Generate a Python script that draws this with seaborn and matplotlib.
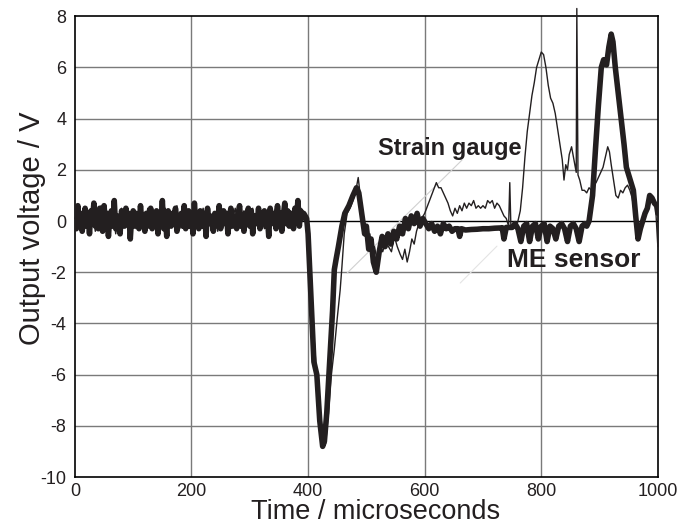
import numpy as np
import pandas as pd
import matplotlib
matplotlib.use("Agg")
import matplotlib.pyplot as plt
import seaborn as sns

# -----------------------------
# Data
# -----------------------------
# ME sensor baseline before the impact, every 2.5 microseconds
me_base_t = list(np.arange(0, 400, 2.5))
me_base = [0.2, -0.3, 0.6, -0.1, 0.3, -0.4, 0.1, 0.5, -0.2, 0.3,
           -0.5, 0.4, 0.0, 0.7, -0.2, 0.3, -0.3, 0.5, 0.1, -0.4,
           0.6, -0.1, 0.3, -0.6, 0.2, 0.4, -0.2, 0.8, -0.3, 0.2,
           0.0, -0.5, 0.4, 0.1, -0.2, 0.5, -0.1, 0.3, -0.7, 0.2,
           0.4, -0.2, 0.3, 0.0, -0.3, 0.6, -0.1, 0.2, -0.4, 0.3,
           0.1, -0.2, 0.5, -0.3, 0.2, 0.0, 0.4, -0.5, 0.3, -0.1,
           0.8, -0.3, 0.2, -0.6, 0.4, 0.1, -0.2, 0.3, -0.1, 0.5,
           -0.4, 0.2, 0.0, 0.3, -0.2, 0.6, -0.3, 0.1, 0.4, -0.2,
           0.3, -0.5, 0.7, -0.1, 0.2, -0.3, 0.4, 0.0, -0.2, 0.3,
           -0.6, 0.5, -0.1, 0.2, 0.0, -0.4, 0.3, 0.1, -0.2, 0.6,
           -0.3, 0.2, 0.4, -0.1, 0.3, -0.5, 0.1, 0.5, -0.2, 0.2,
           0.0, -0.3, 0.3, 0.6, -0.2, 0.1, -0.4, 0.3, 0.0, 0.5,
           -0.2, 0.4, -0.5, 0.2, 0.1, -0.1, 0.5, -0.3, 0.3, 0.0,
           0.4, -0.2, 0.2, -0.6, 0.5, 0.1, -0.1, 0.3, -0.3, 0.6,
           0.0, 0.3, -0.4, 0.2, 0.7, -0.1, 0.4, -0.2, 0.3, 0.1,
           -0.3, 0.5, 0.0, 0.8, -0.2, 0.4, 0.1, 0.3, 0.2, 0.1]

# strain gauge baseline, every 5 microseconds
sg_base_t = list(range(0, 400, 5))
sg_base = [0.1, 0.4, -0.3, 0.2, 0.5, -0.1, 0.3, -0.4, 0.2, 0.6,
           0.0, 0.3, -0.2, 0.4, -0.5, 0.1, 0.5, -0.2, 0.2, 0.0,
           0.4, -0.3, 0.3, 0.1, -0.2, 0.5, -0.1, 0.3, 0.0, -0.3,
           0.2, 0.5, -0.2, 0.3, 0.1, 0.6, -0.3, 0.2, -0.1, 0.4,
           0.0, -0.3, 0.3, 0.1, 0.5, -0.2, 0.3, 0.0, 0.2, -0.4,
           0.4, 0.1, -0.2, 0.3, 0.0, 0.5, -0.3, 0.2, 0.4, -0.1,
           0.2, 0.5, -0.2, 0.1, 0.3, -0.3, 0.4, 0.0, 0.2, 0.6,
           -0.2, 0.3, 0.1, -0.1, 0.4, 0.0, 0.3, 0.8, 0.1, 0.2]

# ME sensor after the baseline
me_t = [400, 405, 410, 415, 420, 425, 428, 432, 437, 442,
        445, 448, 452, 458, 463, 470, 477, 483, 487, 492,
        497, 500, 504, 508, 512, 517, 522, 527, 532, 537,
        542, 547, 552, 557, 562, 567, 572, 577, 582, 587,
        592, 597, 602, 607, 612, 617, 622, 627, 632, 637,
        642, 647, 652, 657, 660, 663, 670, 680, 690, 700,
        710, 720, 730, 733, 736, 740, 750, 755, 760, 765,
        770, 775, 780, 785, 790, 795, 800, 805, 810, 815,
        820, 825, 830, 835, 840, 845, 850, 855, 860, 865,
        870, 875, 878, 882, 888, 893, 898, 903, 907, 912,
        916, 920, 923, 927, 932, 937, 942, 946, 950, 954,
        958, 962, 966, 970, 974, 978, 982, 986, 990, 994,
        998, 1000]
me_v = [-0.5, -3.0, -5.5, -6.0, -7.8, -8.8, -8.6, -7.5, -5.5, -3.5,
        -1.9, -1.5, -1.0, -0.2, 0.3, 0.6, 1.0, 1.3, 1.1, 0.3,
        -0.5, -0.2, -1.1, -0.7, -1.6, -2.0, -1.2, -0.6, -1.0, -0.5,
        -0.9, -0.4, -0.7, -0.2, -0.5, 0.1, -0.3, 0.2, -0.1, 0.3,
        -0.2, 0.1, -0.1, -0.3, -0.1, -0.4, -0.2, -0.5, -0.1, -0.3,
        -0.2, -0.4, -0.3, -0.3, -0.6, -0.3, -0.35, -0.33, -0.32, -0.3,
        -0.3, -0.28, -0.27, -0.26, -0.7, -0.25, -0.25, -0.1, -0.3, -0.8,
        -0.2, -0.1, -0.8, -0.2, -0.1, -0.7, -0.2, -0.1, -0.8, -0.2,
        -0.3, -0.7, -0.2, -0.1, -0.3, -0.8, -0.2, -0.1, -0.3, -0.8,
        -0.2, -0.1, -0.2, 0.0, 1.0, 2.8, 4.5, 6.0, 6.3, 6.1,
        6.8, 7.3, 7.0, 6.0, 5.0, 4.0, 3.0, 2.1, 1.8, 1.5,
        1.2, 0.2, -0.7, -0.3, 0.0, 0.3, 0.5, 1.0, 0.9, 0.7,
        0.6, 0.3]

# strain gauge after the baseline
sg_t = [400, 403, 410, 418, 425, 430, 435, 440, 445, 450,
        455, 458, 462, 467, 472, 477, 482, 486, 490, 494,
        498, 502, 506, 510, 514, 518, 523, 528, 533, 538,
        543, 548, 553, 558, 562, 566, 570, 574, 578, 582,
        586, 590, 595, 600, 605, 610, 615, 620, 624, 628,
        632, 636, 640, 644, 648, 652, 656, 660, 664, 668,
        672, 676, 680, 684, 688, 692, 696, 700, 704, 708,
        712, 716, 720, 724, 728, 732, 736, 740, 744, 746,
        748, 752, 756, 760, 764, 768, 772, 776, 780, 784,
        788, 792, 796, 800, 804, 808, 812, 816, 820, 824,
        828, 832, 836, 839, 842, 845, 848, 852, 856, 860,
        861, 863, 866, 870, 874, 878, 882, 886, 890, 894,
        898, 902, 906, 910, 914, 917, 920, 924, 928, 932,
        936, 940, 944, 948, 952, 956, 960, 964, 968, 972,
        976, 980, 984, 988, 992, 996, 1000]
sg_v = [-0.3, -2.0, -4.5, -7.0, -8.5, -8.7, -7.5, -6.0, -5.0, -3.8,
        -2.7, -1.8, -0.5, 0.3, 0.5, 0.8, 1.2, 1.7, 0.9, 0.2,
        -0.3, -0.8, -0.5, -1.2, -1.0, -1.5, -0.9, -1.2, -0.8, -1.0,
        -1.2, -0.6, -1.0, -1.3, -1.5, -1.1, -1.6, -1.2, -0.7, -0.9,
        -0.4, -0.1, 0.1, 0.3, 0.6, 0.9, 1.2, 1.5, 1.3, 1.3,
        1.1, 0.9, 0.7, 0.4, 0.2, 0.5, 0.3, 0.6, 0.4, 0.7,
        0.5, 0.7, 0.6, 0.8, 0.5, 0.6, 0.5, 0.6, 0.5, 0.8,
        0.7, 0.8, 0.5, 0.7, 0.6, 0.4, 0.2, 0.1, -0.2, 1.5,
        -0.3, -0.1, -0.3, 0.0, 0.4, 1.3, 2.5, 3.5, 4.2, 4.9,
        5.4, 6.0, 6.3, 6.6, 6.5, 6.0, 5.3, 4.8, 4.6, 4.2,
        3.6, 3.0, 2.4, 1.6, 2.2, 2.0, 2.6, 2.9, 2.4, 1.9,
        8.3, 1.8, 1.6, 1.2, 1.2, 1.1, 1.3, 1.2, 1.4, 1.5,
        1.7, 1.9, 2.1, 2.5, 2.9, 2.7, 2.2, 1.6, 1.0, 0.9,
        1.2, 1.1, 1.3, 1.4, 1.2, 0.9, 0.3, -0.5, -0.6, -0.2,
        0.2, 0.4, 0.9, 1.0, 0.8, 0.6, -1.0]

x_ticks = [0, 200, 400, 600, 800, 1000]
y_ticks = [-10, -8, -6, -4, -2, 0, 2, 4, 6, 8]
y_tick_labels = ["-10", "-8", "-6", "-4", "-2", "0", "2", "4", "6", "8"]

# label positions (data coords) and their faint leader lines
sg_label = (520, 2.58)
me_label = (742, -1.80)
sg_leader = ([664, 467], [2.38, -2.03])
me_leader = ([724, 661], [-0.98, -2.42])

me = pd.DataFrame({"t": me_base_t + me_t, "v": me_base + me_v})
sg = pd.DataFrame({"t": sg_base_t + sg_t, "v": sg_base + sg_v})

# -----------------------------
# Plot
# -----------------------------
sns.set_style("white")
plt.rcParams["font.family"] = ["Liberation Sans", "DejaVu Sans"]

fig, ax = plt.subplots(figsize=(6.81, 5.22), dpi=100)
fig.subplots_adjust(left=0.110, right=0.966, top=0.969, bottom=0.086)

ink = "#231f20"

# grid + zero line
for xt in x_ticks[1:-1]:
    ax.axvline(xt, color="#7a7a7a", lw=1.0, zorder=0)
for yt in y_ticks[1:-1]:
    if yt != 0:
        ax.axhline(yt, color="#7a7a7a", lw=1.0, zorder=0)
ax.axhline(0, color="black", lw=1.0, zorder=1)

sns.lineplot(data=me, x="t", y="v", ax=ax, color=ink, lw=4.0,
             estimator=None, sort=False, zorder=3)
sns.lineplot(data=sg, x="t", y="v", ax=ax, color=ink, lw=1.0,
             estimator=None, sort=False, zorder=4, clip_on=False)

ax.plot(*sg_leader, color="#d0d0d0", lw=0.8, zorder=2)
ax.plot(*me_leader, color="#e4e4e4", lw=0.8, zorder=2)

ax.text(*sg_label, "Strain gauge", fontsize=17, fontweight="bold",
        color=ink, ha="left", va="baseline", zorder=5)
ax.text(*me_label, "ME sensor", fontsize=19, fontweight="bold",
        color=ink, ha="left", va="baseline", zorder=5)

ax.set_xlim(0, 1000)
ax.set_ylim(-10, 8)
ax.set_xticks(x_ticks)
ax.set_yticks(y_ticks)
ax.set_yticklabels(y_tick_labels)
ax.tick_params(length=0, labelsize=13, labelcolor=ink)
ax.tick_params(axis="y", pad=6)
ax.tick_params(axis="x", pad=4)

ax.set_xlabel("Time / microseconds", fontsize=19.5, color=ink)
ax.set_ylabel("Output voltage / V", fontsize=21, color=ink)
ax.xaxis.set_label_coords(0.515, -0.047)
ax.yaxis.set_label_coords(-0.05, 0.54)

for s in ax.spines.values():
    s.set_color("black")
    s.set_linewidth(1.2)

fig.savefig("out.png", dpi=100)
